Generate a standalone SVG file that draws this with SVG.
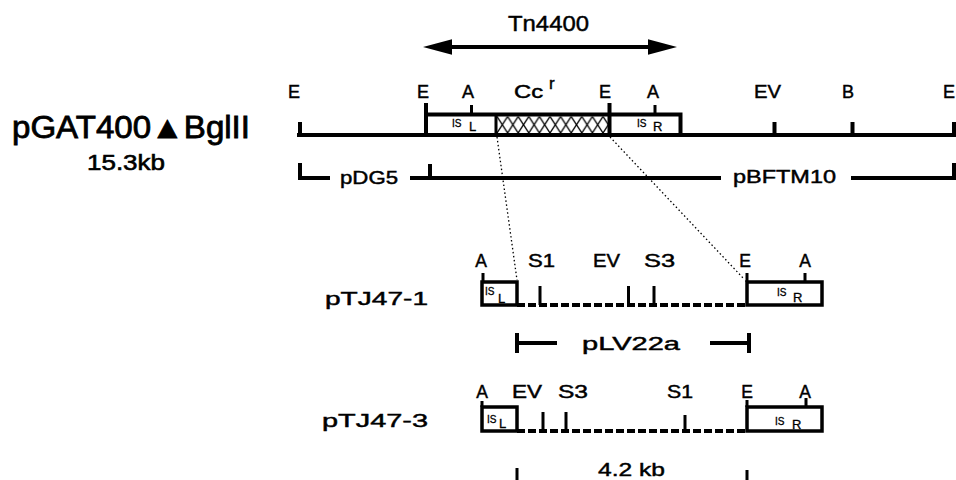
<svg xmlns="http://www.w3.org/2000/svg" width="956" height="480" viewBox="0 0 956 480">
<style>
text{font-family:"Liberation Sans",Arial,"DejaVu Sans",sans-serif;fill:#000;stroke:#000;stroke-width:0.45}
.lab{font-size:18px}
.sm{font-size:17.5px}
.big{font-size:19px}
.is{font-size:10px;stroke-width:0.3}
.sub{font-size:13px;stroke-width:0.3}
.ln{stroke:#000;stroke-width:4;fill:none}
.bx{stroke:#000;stroke-width:3.5;fill:#fff}
.tk{stroke:#000;stroke-width:3;fill:none}
.dash{stroke:#000;stroke-width:4;fill:none;stroke-dasharray:8 3}
.dot{stroke:#000;stroke-width:1.3;fill:none;stroke-dasharray:1.5 2.5}
</style>
<defs>
<pattern id="xh" patternUnits="userSpaceOnUse" x="497" y="116.5" width="10.6" height="16.5">
<path d="M0,0 L10.6,16.5 M10.6,0 L0,16.5" stroke="#000" stroke-width="1.3" fill="none"/>
</pattern>
<marker id="ah" markerUnits="userSpaceOnUse" markerWidth="30" markerHeight="16" refX="7" refY="7.75" orient="auto-start-reverse">
<path d="M0,0 L29,7.75 L0,15.5 Z" fill="#000"/>
</marker>
</defs>

<g id="tn4400">
<text x="508" y="31" font-size="22" textLength="81" lengthAdjust="spacingAndGlyphs">Tn4400</text>
<line x1="445" y1="47" x2="655" y2="47" class="ln" marker-start="url(#ah)" marker-end="url(#ah)"/>
</g>

<g id="pGAT400">
<text x="12" y="138" font-size="31" textLength="238" lengthAdjust="spacingAndGlyphs" style="stroke-width:0.8">pGAT400▲BglII</text>
<text x="87" y="170" font-size="22" textLength="78" lengthAdjust="spacingAndGlyphs" style="stroke-width:0.6">15.3kb</text>
<text class="lab" x="294" y="98" text-anchor="middle">E</text>
<text class="lab" x="423" y="98" text-anchor="middle">E</text>
<text class="lab" x="468" y="98" text-anchor="middle">A</text>
<text class="lab" x="514" y="98" textLength="29" lengthAdjust="spacingAndGlyphs">Cc</text>
<text x="549" y="89" font-size="17">r</text>
<text class="lab" x="605" y="98" text-anchor="middle">E</text>
<text class="lab" x="653" y="98" text-anchor="middle">A</text>
<text class="lab" x="754" y="98" textLength="27" lengthAdjust="spacingAndGlyphs">EV</text>
<text class="lab" x="848" y="98" text-anchor="middle">B</text>
<text class="lab" x="943" y="98">E</text>
<line x1="297" y1="135" x2="956" y2="135" class="ln"/>
<path class="ln" d="M300,122 V135 M774.5,122 V135 M852.5,122 V135 M954,122 V135"/>
<rect x="426" y="114.5" width="254.5" height="20.5" class="bx" style="stroke-width:4"/>
<rect x="497" y="116.5" width="112" height="16.5" fill="url(#xh)"/>
<path class="ln" d="M426,103 V135 M609.5,103 V135"/>
<path class="tk" d="M496,114 V135 M471.5,105 V114 M655,105 V114"/>
<text class="is" x="452" y="127" font-size="12">IS</text>
<text class="sub" x="469" y="131" font-size="12">L</text>
<text class="is" x="637" y="127" font-size="12">IS</text>
<text class="sub" x="653" y="131" font-size="12">R</text>
</g>

<g id="pDG5">
<text class="lab" x="340" y="184" textLength="58" lengthAdjust="spacingAndGlyphs">pDG5</text>
<path class="ln" d="M300,163 V178 H330 M410,178 H721 M430,164 V178"/>
</g>

<g id="pBFTM10">
<text class="lab" x="733" y="183" textLength="103" lengthAdjust="spacingAndGlyphs">pBFTM10</text>
<path class="ln" d="M851,178 H954 V163"/>
</g>

<g id="pTJ47-1">
<text class="big" x="325" y="305" textLength="103" lengthAdjust="spacingAndGlyphs">pTJ47-1</text>
<text class="sm" x="481" y="267" text-anchor="middle">A</text>
<text class="sm" x="528" y="267" textLength="27" lengthAdjust="spacingAndGlyphs">S1</text>
<text class="sm" x="593" y="267" textLength="27" lengthAdjust="spacingAndGlyphs">EV</text>
<text class="sm" x="644" y="267" textLength="31" lengthAdjust="spacingAndGlyphs">S3</text>
<text class="sm" x="745" y="267" text-anchor="middle">E</text>
<text class="sm" x="805" y="267" text-anchor="middle">A</text>
<line x1="517" y1="305" x2="747" y2="305" class="dash"/>
<path class="tk" d="M540,286 V305 M628.5,286 V305 M654,286 V305"/>
<rect x="482" y="282" width="35" height="23" class="bx"/>
<rect x="747" y="282" width="75" height="23" class="bx"/>
<path class="tk" d="M483,273 V282 M747,273 V282 M805,273 V282"/>
<text class="is" x="485" y="295">IS</text>
<text class="sub" x="498" y="303">L</text>
<text class="is" x="777" y="296">IS</text>
<text class="sub" x="793" y="302">R</text>
</g>

<g id="pLV22a">
<text class="big" x="582" y="350" textLength="98" lengthAdjust="spacingAndGlyphs">pLV22a</text>
<path class="ln" d="M517,333 V353 M517,343 H557 M710,343 H749 M749,333 V353"/>
</g>

<g id="pTJ47-3">
<text class="big" x="322" y="427" textLength="106" lengthAdjust="spacingAndGlyphs">pTJ47-3</text>
<text class="sm" x="482" y="398" text-anchor="middle">A</text>
<text class="sm" x="512" y="398" textLength="30" lengthAdjust="spacingAndGlyphs">EV</text>
<text class="sm" x="558" y="398" textLength="30" lengthAdjust="spacingAndGlyphs">S3</text>
<text class="sm" x="667" y="398" textLength="26" lengthAdjust="spacingAndGlyphs">S1</text>
<text class="sm" x="747" y="398" text-anchor="middle">E</text>
<text class="sm" x="805" y="398" text-anchor="middle">A</text>
<line x1="517" y1="431" x2="747" y2="431" class="dash"/>
<path class="tk" d="M543,412 V431 M566,412 V431 M685,415 V431"/>
<rect x="482" y="407" width="35" height="24" class="bx"/>
<rect x="747" y="407" width="75" height="24" class="bx"/>
<path class="tk" d="M482,401 V407 M747,400 V407 M806,398 V407"/>
<text class="is" x="487" y="423">IS</text>
<text class="sub" x="499" y="428">L</text>
<text class="is" x="775" y="425">IS</text>
<text class="sub" x="792" y="429">R</text>
</g>

<g id="size42">
<text class="big" x="598" y="476" textLength="67" lengthAdjust="spacingAndGlyphs">4.2 kb</text>
<path class="tk" d="M517,468 V480 M747,470 V480"/>
</g>

<g id="connectors">
<line x1="497" y1="137" x2="517" y2="280" class="dot"/>
<line x1="610" y1="137" x2="744" y2="279" class="dot"/>
</g>
</svg>
